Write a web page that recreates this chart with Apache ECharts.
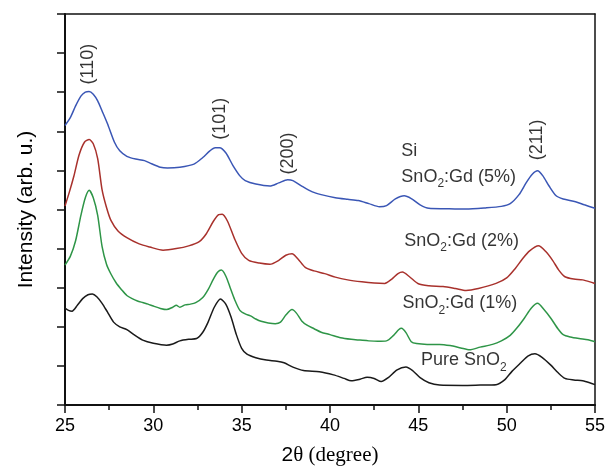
<!DOCTYPE html>
<html>
<head>
<meta charset="utf-8">
<style>html,body{margin:0;padding:0;background:#fff}#c{width:608px;height:471px}</style>
<script src="https://cdn.jsdelivr.net/npm/echarts@6/dist/echarts.min.js"></script>
</head>
<body>
<div id="c"></div>
<script>
// ---- data (2theta, intensity arb. u.) ----
const sampleNames = ['SnO2:Gd (5%)', 'SnO2:Gd (2%)', 'SnO2:Gd (1%)', 'Pure SnO2'];
const xTicks = [25, 30, 35, 40, 45, 50, 55];
const peakLabels = ['(110)', '(101)', '(200)', '(211)'];

const gd5 = [[25,7.15],[25.3,7.35],[25.6,7.65],[25.9,7.9],[26.15,8.0],[26.36,8.02],[26.6,7.95],[26.85,7.78],[27.1,7.52],[27.4,7.2],[27.8,6.72],[28.1,6.5],[28.5,6.36],[29.0,6.29],[29.5,6.25],[29.9,6.17],[30.4,6.08],[30.8,6.06],[31.5,6.08],[32.3,6.16],[32.8,6.33],[33.2,6.5],[33.5,6.58],[33.75,6.58],[34.1,6.45],[34.5,6.13],[34.9,5.86],[35.2,5.74],[35.8,5.65],[36.6,5.6],[37.1,5.68],[37.6,5.76],[37.9,5.74],[38.4,5.6],[39.0,5.45],[39.5,5.38],[40.3,5.3],[41.0,5.26],[41.6,5.23],[42.2,5.15],[42.8,5.07],[43.2,5.1],[43.7,5.27],[44.2,5.35],[44.6,5.28],[45.1,5.12],[45.6,5.03],[46.5,5.02],[47.7,5.01],[48.8,5.04],[49.7,5.08],[50.2,5.15],[50.7,5.38],[51.1,5.68],[51.45,5.9],[51.75,5.99],[52.05,5.86],[52.4,5.6],[52.8,5.35],[53.2,5.27],[53.9,5.2],[54.4,5.12],[55,5.03]];

const gd2 = [[25,5.09],[25.25,5.45],[25.5,5.85],[25.8,6.4],[26.1,6.72],[26.37,6.79],[26.6,6.68],[26.85,6.3],[27.1,5.5],[27.35,5.05],[27.6,4.72],[28.0,4.45],[28.5,4.28],[29.2,4.12],[29.8,4.04],[30.55,3.96],[31.3,4.0],[32.0,4.07],[32.6,4.18],[33.0,4.38],[33.4,4.7],[33.7,4.87],[33.9,4.88],[34.2,4.7],[34.6,4.25],[35.0,3.88],[35.4,3.7],[36.0,3.63],[36.6,3.6],[37.1,3.7],[37.5,3.83],[37.85,3.87],[38.2,3.73],[38.6,3.52],[39.1,3.43],[39.7,3.36],[40.3,3.27],[41.0,3.2],[41.8,3.15],[42.5,3.12],[43.1,3.11],[43.5,3.22],[43.85,3.36],[44.1,3.4],[44.5,3.28],[45.0,3.1],[45.6,3.05],[46.4,3.03],[47.1,2.98],[47.7,2.93],[48.4,2.98],[49.4,3.11],[50.0,3.25],[50.5,3.5],[50.9,3.74],[51.3,3.94],[51.8,4.07],[52.2,3.93],[52.6,3.7],[52.95,3.45],[53.3,3.28],[53.8,3.22],[54.3,3.2],[55,3.11]];

const gd1 = [[25,3.58],[25.3,3.8],[25.6,4.2],[25.9,4.85],[26.15,5.3],[26.37,5.49],[26.6,5.3],[26.85,4.85],[27.1,4.05],[27.35,3.6],[27.6,3.35],[27.9,3.12],[28.2,2.95],[28.5,2.8],[28.8,2.72],[29.1,2.66],[29.4,2.62],[29.7,2.58],[30.0,2.53],[30.4,2.47],[30.75,2.44],[31.1,2.5],[31.3,2.55],[31.5,2.5],[31.8,2.56],[32.1,2.58],[32.4,2.62],[32.8,2.75],[33.1,2.95],[33.4,3.22],[33.65,3.4],[33.85,3.45],[34.1,3.3],[34.35,3.0],[34.6,2.7],[34.9,2.42],[35.2,2.33],[35.5,2.28],[35.8,2.2],[36.1,2.14],[36.5,2.1],[36.9,2.08],[37.2,2.12],[37.5,2.3],[37.85,2.44],[38.1,2.35],[38.4,2.15],[38.7,2.04],[39.1,1.95],[39.5,1.86],[40.0,1.8],[40.6,1.72],[41.2,1.68],[41.7,1.66],[42.2,1.64],[42.7,1.63],[43.2,1.64],[43.6,1.78],[43.9,1.93],[44.05,1.96],[44.3,1.85],[44.6,1.62],[44.9,1.57],[45.5,1.55],[46.2,1.55],[46.8,1.52],[47.4,1.46],[47.9,1.41],[48.5,1.48],[49.2,1.55],[49.7,1.64],[50.2,1.78],[50.6,1.98],[51.0,2.22],[51.4,2.48],[51.75,2.6],[52.1,2.45],[52.5,2.22],[52.9,1.95],[53.2,1.8],[53.6,1.74],[54.1,1.7],[54.6,1.67],[55,1.62]];

const pure = [[25,2.48],[25.2,2.42],[25.4,2.4],[25.7,2.55],[26.0,2.72],[26.3,2.82],[26.55,2.84],[26.8,2.77],[27.1,2.6],[27.4,2.38],[27.75,2.12],[28.1,2.0],[28.5,1.93],[28.9,1.8],[29.4,1.66],[30.0,1.58],[30.75,1.53],[31.1,1.56],[31.5,1.64],[32.0,1.68],[32.45,1.7],[32.8,1.86],[33.1,2.12],[33.45,2.5],[33.8,2.71],[34.1,2.58],[34.4,2.25],[34.7,1.8],[35.0,1.45],[35.3,1.3],[35.8,1.21],[36.4,1.15],[37.0,1.12],[37.4,1.08],[37.9,0.97],[38.5,0.88],[39.4,0.85],[40.2,0.77],[40.8,0.68],[41.2,0.62],[41.7,0.66],[42.1,0.71],[42.5,0.68],[42.9,0.6],[43.3,0.7],[43.8,0.9],[44.3,0.97],[44.7,0.87],[45.1,0.7],[45.6,0.57],[46.2,0.51],[47.5,0.5],[48.5,0.51],[49.4,0.52],[49.9,0.65],[50.3,0.86],[50.8,1.08],[51.2,1.25],[51.6,1.31],[52.0,1.22],[52.5,1.02],[52.9,0.83],[53.3,0.68],[53.8,0.64],[54.3,0.62],[54.7,0.57],[55,0.52]];

// ---- chart ----
const SANS = '"Liberation Sans", Arial, sans-serif';
const SERIF = '"Liberation Serif", "Times New Roman", serif';
const TXT = '#000';

const rich = {
  a: { fontSize: 18, fontFamily: SANS, color: TXT, lineHeight: 26 },
  s: { fontSize: 12, fontFamily: SANS, color: TXT, lineHeight: 12, verticalAlign: 'bottom' }
};

function lineSeries(name, data, color) {
  return { name, type: 'line', data, showSymbol: false, smooth: 0.25, silent: true,
    lineStyle: { color, width: 1.5 }, z: 3 };
}

const peakPos = [[26.3, 8.72], [33.8, 7.32], [37.65, 6.43], [51.72, 6.78]];
const samplePos = [[44.04, 5.83], [44.2, 4.19], [44.1, 2.60], [45.15, 1.14]];

const chart = echarts.init(document.getElementById('c'), null, { renderer: 'canvas' });
chart.setOption({
  animation: false,
  backgroundColor: '#fff',
  grid: { left: 65, right: 11, top: 14, bottom: 61 },
  xAxis: [{
    type: 'value', min: 25, max: 55, interval: 5,
    axisLine: { show: true, onZero: false, lineStyle: { color: '#111', width: 2 } },
    axisTick: { show: true, inside: false, length: 8, lineStyle: { color: '#111', width: 1.5 } },
    minorTick: { show: true, splitNumber: 2, length: 5, lineStyle: { color: '#111', width: 1.5 } },
    splitLine: { show: false },
    axisLabel: { fontSize: 18, fontFamily: SANS, color: TXT, margin: 12,
      formatter: v => xTicks.includes(v) ? String(v) : '' },
    name: '{n|2}{t|\u03b8 (degree)}', nameLocation: 'middle', nameGap: 40,
    nameTextStyle: { rich: { n: { fontSize: 21, fontFamily: SANS, color: TXT }, t: { fontSize: 21, fontFamily: SERIF, color: TXT } } }
  }, {
    type: 'value', min: 25, max: 55, position: 'top',
    axisLine: { show: true, onZero: false, lineStyle: { color: '#111', width: 1.5 } },
    axisTick: { show: false }, axisLabel: { show: false }, splitLine: { show: false }
  }],
  yAxis: [{
    type: 'value', min: 0, max: 10, interval: 1,
    axisLine: { show: true, onZero: false, lineStyle: { color: '#111', width: 2 } },
    axisTick: { show: true, inside: false, length: 8, lineStyle: { color: '#111', width: 1.5 } },
    splitLine: { show: false }, axisLabel: { show: false },
    name: 'Intensity (arb. u.)', nameLocation: 'middle', nameGap: 28,
    nameTextStyle: { fontSize: 21, fontFamily: SANS, color: TXT }
  }, {
    type: 'value', min: 0, max: 10, position: 'right',
    axisLine: { show: true, onZero: false, lineStyle: { color: '#111', width: 1.5 } },
    axisTick: { show: false }, axisLabel: { show: false }, splitLine: { show: false }
  }],
  series: [
    lineSeries(sampleNames[3], pure, '#1a1a1a'),
    lineSeries(sampleNames[2], gd1, '#2e9547'),
    lineSeries(sampleNames[1], gd2, '#a8312c'),
    lineSeries(sampleNames[0], gd5, '#3a56b5'),
    {
      type: 'scatter', symbolSize: 0, silent: true, z: 5,
      data: peakLabels.map((t, i) => ({ value: peakPos[i], name: t })),
      label: { show: true, position: 'inside', rotate: 90, formatter: p => p.name,
        fontSize: 18, fontFamily: SANS, color: TXT }
    },
    {
      type: 'scatter', symbolSize: 0, silent: true, z: 5,
      data: [{ value: [44.04, 6.49], name: 'Si' }].concat(
        sampleNames.map((t, i) => ({ value: samplePos[i], name: t }))),
      label: { show: true, position: 'right', distance: 0,
        formatter: p => p.name.indexOf('SnO2') >= 0
          ? p.name.split('SnO2').map(s => s ? '{a|' + s + '}' : '').join('{a|SnO}{s|2}')
          : '{a|' + p.name + '}',
        rich }
    }
  ]
});
</script>
</body>
</html>
